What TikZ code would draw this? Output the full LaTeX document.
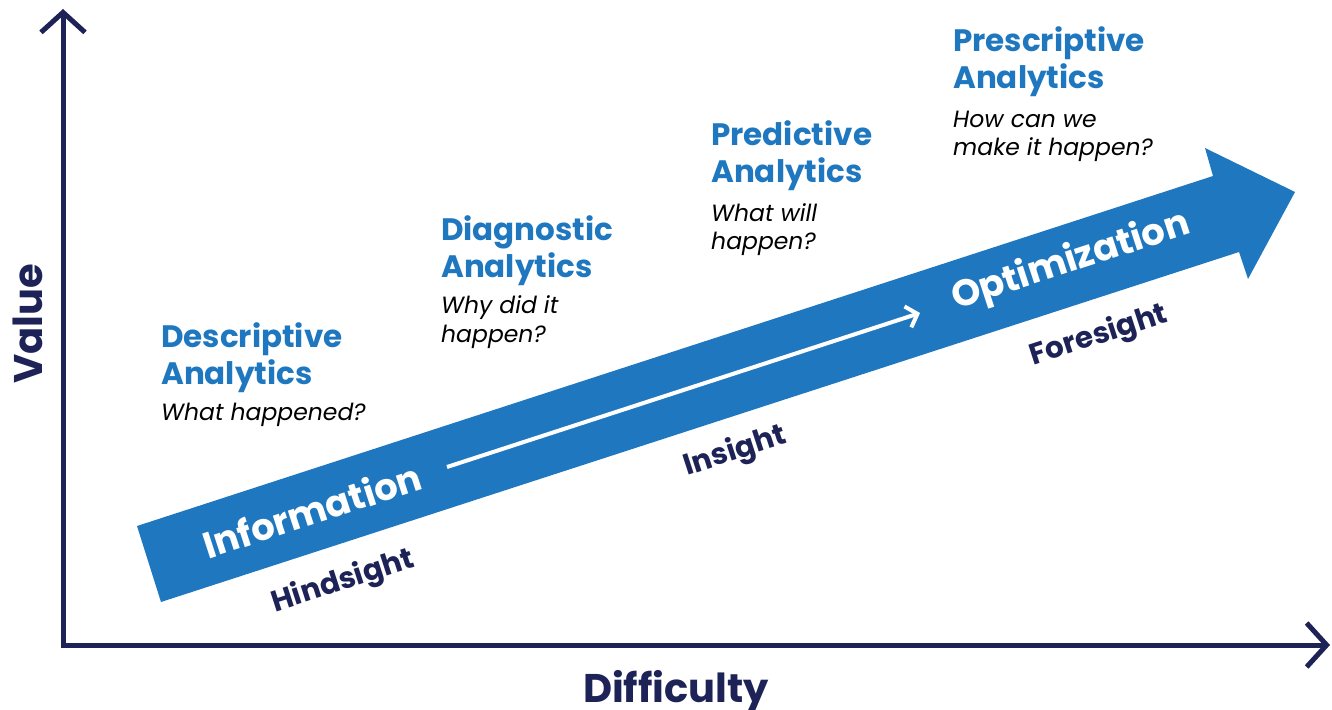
\documentclass[tikz,border=0pt]{standalone}
\usepackage{fontspec}
\setmainfont{Poppins}
\usetikzlibrary{arrows.meta}
\definecolor{cblue}{HTML}{1F78BF}
\definecolor{navy}{HTML}{1E2357}
\begin{document}
\begin{tikzpicture}[x=1pt,y=-1pt,
  head/.style={anchor=base west, text=cblue, inner sep=0pt, font=\fontsize{31}{37}\selectfont\bfseries},
  quest/.style={anchor=base west, text=black, inner sep=0pt, font=\fontsize{23.5}{28}\selectfont\itshape},
  stage/.style={rotate=18, text=white, inner sep=0pt, font=\fontsize{37}{41}\selectfont\bfseries},
  sight/.style={rotate=18, text=navy, inner sep=0pt, font=\fontsize{29.5}{32}\selectfont\bfseries},
  axislabel/.style={text=navy, inner sep=0pt, font=\fontsize{40}{44}\selectfont\bfseries},
  axisline/.style={draw=navy, line width=5pt, -{Straight Barb[length=20pt,width=44pt]}},
  bigarrow/.style={fill=cblue, draw=none},
  innerarrow/.style={draw=white, line width=4pt, -{Straight Barb[length=10pt,width=22pt]}}
]
\useasboundingbox (0,0) rectangle (1332,709);

% axes
\coordinate (origin) at (63,645);
\coordinate (ytop) at (63,9);
\coordinate (xend) at (1330,645);
\draw[axisline] ([yshift=2.5pt]origin) -- (ytop);
\draw[axisline] ([xshift=-2.5pt]origin) -- (xend);

\node[axislabel, rotate=90] (value) at (28,324) {Value};
\node[axislabel, anchor=base] (diff) at (676,702) {Difficulty};

% big arrow
\fill[bigarrow] (137,526) -- (1213,176) -- (1205,148) -- (1295,192) -- (1248,279) -- (1239,252) -- (161,602) -- cycle;

% inner arrow
\coordinate (istart) at (447,467);
\coordinate (iend) at (920,313);
\draw[innerarrow] (istart) -- (iend);

% stage labels
\node[stage] (info) at (312,510) {Information};
\node[stage] (opt) at (1071,262) {Optimization};
\node[sight] (hind) at (343,582) {Hindsight};
\node[sight] (ins) at (735,452) {Insight};
\node[sight] (fore) at (1099,336) {Foresight};

% headings
\node[head] (d1) at (161,347) {Descriptive};
\node[head] (d2) at (161,384) {Analytics};
\node[quest] (dq) at (161,420) {What happened?};

\node[head] (g1) at (441,240) {Diagnostic};
\node[head] (g2) at (441,277) {Analytics};
\node[quest] (gq1) at (441,313) {Why did it};
\node[quest] (gq2) at (441,342) {happen?};

\node[head] (p1) at (711,145) {Predictive};
\node[head] (p2) at (711,182) {Analytics};
\node[quest] (pq1) at (711,221) {What will};
\node[quest] (pq2) at (711,249) {happen?};

\node[head] (s1) at (953,52) {Prescriptive};
\node[head] (s2) at (953,88) {Analytics};
\node[quest] (sq1) at (953,127) {How can we};
\node[quest] (sq2) at (953,155) {make it happen?};
\end{tikzpicture}
\end{document}
